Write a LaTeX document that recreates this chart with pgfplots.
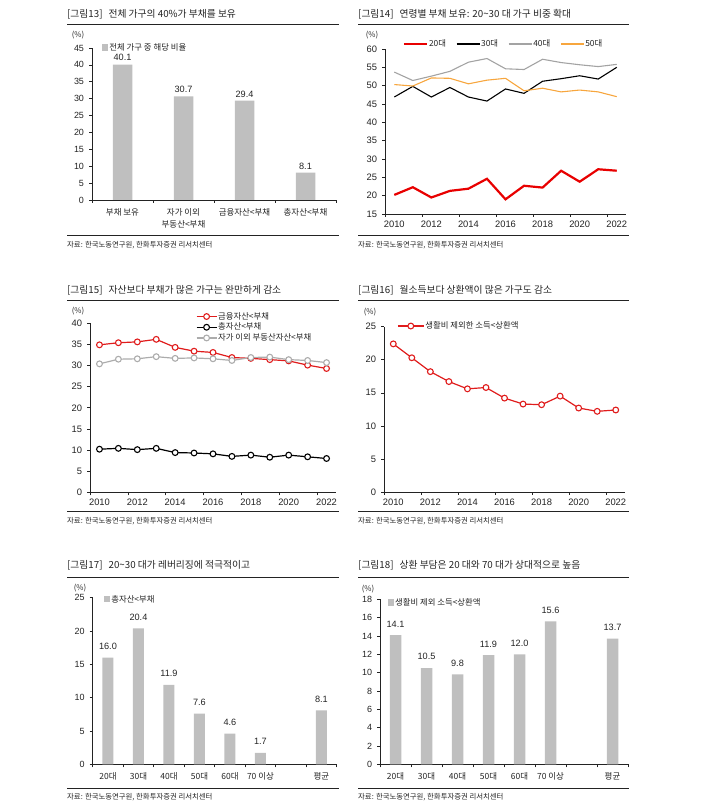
\documentclass[border=0pt]{standalone}
\usepackage{pgfplots}
\pgfplotsset{compat=1.18}
\usepackage{fontspec}
\setmainfont{Liberation Sans}
\newfontfamily\kr{Noto Sans CJK KR}

\definecolor{barg}{RGB}{191,191,191}
\definecolor{lred}{RGB}{232,0,0}
\definecolor{lgray}{RGB}{163,163,163}
\definecolor{lorange}{RGB}{247,166,62}
\definecolor{mred}{RGB}{224,28,28}
\definecolor{mgray}{RGB}{172,172,172}
\definecolor{ink}{RGB}{35,35,35}

\pgfplotsset{
  /pgf/number format/assume math mode=true,
  /pgf/number format/1000 sep={},
  panel/.style={
    scale only axis, anchor=south west,
    axis x line*=bottom, axis y line*=left,
    axis line style={-, draw=ink, line width=0.7bp},
    tick align=outside, major tick length=3bp,
    tick style={draw=ink, line width=0.6bp},
    tick label style={font=\fontsize{9}{10}\selectfont, text=ink},
    yticklabel style={xshift=-1.5bp},
    legend style={draw=none, fill=none, inner sep=0pt,
      nodes={inner sep=1bp}, font=\kr\fontsize{8.4}{10}\selectfont, text=ink},
    legend cell align=left,
  },
  barpanel/.style={
    panel, ybar, bar width=#1,
    legend image code/.code={\fill[barg] (0bp,-3bp) rectangle (6.5bp,3.5bp);},
    nodes near coords,
    nodes near coords style={font=\fontsize{9.2}{10}\selectfont, text=ink,
      /pgf/number format/fixed, /pgf/number format/fixed zerofill,
      /pgf/number format/precision=1},
    xticklabels={},
    extra x tick style={major tick length=0pt,
      tick label style={font=\kr\fontsize{8.5}{12}\selectfont, align=center, yshift=-5bp}},
  },
  linepanel/.style={
    panel, xmin=2009.5, xmax=2022.5,
    tick label style={font=\fontsize{9.4}{10}\selectfont},
    xtick={2009.5,2011.5,2013.5,2015.5,2017.5,2019.5,2021.5}, xticklabels={},
    extra x ticks={2010,2012,2014,2016,2018,2020,2022},
    extra x tick labels={2010,2012,2014,2016,2018,2020,2022},
    extra x tick style={major tick length=0pt, tick label style={yshift=-3.5bp}},
  },
}
\tikzset{
  ttl/.style={anchor=base west, inner sep=0pt, font=\kr\fontsize{9.8}{11}\selectfont, text=ink},
  src/.style={anchor=base west, inner sep=0pt, font=\kr\fontsize{7.4}{8}\selectfont, text=ink},
  pct/.style={inner sep=0pt, font=\kr\fontsize{7.8}{9}\selectfont, text=ink},
  rul/.style={draw=ink, line width=0.8bp},
}

\begin{document}
\begin{tikzpicture}[x=1bp,y=1bp]
\useasboundingbox (0,0) rectangle (713,812);

% ---------- titles, rules, sources ----------
\node[ttl] at (67,794.3) {[그림13]\hspace{6bp}전체 가구의 40\%가 부채를 보유};
\node[ttl] at (358,794.3) {[그림14]\hspace{6bp}연령별 부채 보유: 20\textasciitilde30 대 가구 비중 확대};
\node[ttl] at (67,518.3) {[그림15]\hspace{6bp}자산보다 부채가 많은 가구는 완만하게 감소};
\node[ttl] at (358,518.3) {[그림16]\hspace{6bp}월소득보다 상환액이 많은 가구도 감소};
\node[ttl] at (67,243.3) {[그림17]\hspace{6bp}20\textasciitilde30 대가 레버리징에 적극적이고};
\node[ttl] at (358,243.3) {[그림18]\hspace{6bp}상환 부담은 20 대와 70 대가 상대적으로 높음};

\draw[rul] (67,788) -- (339,788);  \draw[rul] (358,788) -- (629,788);
\draw[rul] (67,512) -- (339,512);  \draw[rul] (358,512) -- (629,512);
\draw[rul] (67,235) -- (339,235);  \draw[rul] (358,235) -- (629,235);
\draw[rul] (67,577) -- (339,577);  \draw[rul] (358,577) -- (629,577);
\draw[rul] (67,301) -- (339,301);  \draw[rul] (358,301) -- (629,301);
\draw[rul] (67,24) -- (339,24);    \draw[rul] (358,24) -- (629,24);

\foreach \xx/\yy in {67/564.2, 358/564.2, 67/288.2, 358/288.2, 67/12.2, 358/12.2}
  \node[src] at (\xx,\yy) {자료: 한국노동연구원, 한화투자증권 리서치센터};

\node[pct] at (78,777) {(\%)};
\node[pct] at (372,777) {(\%)};
\node[pct] at (78,501) {(\%)};
\node[pct] at (370,500) {(\%)};
\node[pct] at (80,224) {(\%)};
\node[pct] at (368,223) {(\%)};

% ---------- 그림13 ----------
\begin{axis}[barpanel=19.5bp, at={(92bp,612bp)}, width=244bp, height=152bp,
  xmin=-0.5, xmax=3.5, ymin=0, ymax=45, ytick={0,5,...,45},
  xtick={-0.5,0.5,1.5,2.5,3.5},
  extra x ticks={0,1,2,3},
  extra x tick labels={부채 보유,{자가 이외\\부동산<부채},금융자산<부채,총자산<부채},
  legend style={at={(0.04,1.0)}, anchor=west},
]
\addplot[fill=barg, draw=none] coordinates {(0,40.1) (1,30.7) (2,29.4) (3,8.1)};
\addlegendentry{전체 가구 중 해당 비율}
\end{axis}

% ---------- 그림14 ----------
\begin{axis}[linepanel, at={(385bp,598bp)}, width=241bp, height=165bp,
  ymin=15, ymax=60, ytick={15,20,...,60},
  legend columns=4,
  legend style={at={(0.49,1.03)}, anchor=center,
    /tikz/every even column/.append style={column sep=9bp}},
  legend image code/.code={\draw[#1] (0bp,0bp) -- (23bp,0bp);},
]
\addplot[lred, line width=2.2bp] coordinates {
(2010,20.2) (2011,22.3) (2012,19.5) (2013,21.3) (2014,21.9) (2015,24.6) (2016,19.0)
(2017,22.7) (2018,22.2) (2019,26.8) (2020,23.8) (2021,27.2) (2022,26.8)};
\addlegendentry{20대}
\addplot[black, line width=1.1bp] coordinates {
(2010,46.9) (2011,49.8) (2012,46.9) (2013,49.5) (2014,46.9) (2015,45.8) (2016,49.1)
(2017,47.9) (2018,51.2) (2019,51.9) (2020,52.7) (2021,51.8) (2022,55.0)};
\addlegendentry{30대}
\addplot[lgray, line width=1.1bp] coordinates {
(2010,53.7) (2011,51.4) (2012,52.6) (2013,53.9) (2014,56.4) (2015,57.4) (2016,54.6)
(2017,54.4) (2018,57.2) (2019,56.3) (2020,55.7) (2021,55.2) (2022,55.8)};
\addlegendentry{40대}
\addplot[lorange, line width=1.1bp] coordinates {
(2010,50.3) (2011,49.9) (2012,52.1) (2013,52.0) (2014,50.5) (2015,51.5) (2016,52.0)
(2017,48.6) (2018,49.3) (2019,48.3) (2020,48.8) (2021,48.3) (2022,47.0)};
\addlegendentry{50대}
\end{axis}

% ---------- 그림15 ----------
\begin{axis}[linepanel, at={(90bp,319.7bp)}, width=246bp, height=169bp,
  ymin=0, ymax=40, ytick={0,5,...,40},
  legend style={at={(0.43,1.072)}, anchor=north west, row sep=0.3bp},
  legend image code/.code={\draw[mark repeat=2, mark phase=2, #1]
    plot coordinates {(0bp,0bp) (10bp,0bp) (20bp,0bp)};},
]
\addplot[mred, line width=1.2bp, mark=*, mark size=2.9bp,
  mark options={fill=white, line width=1.1bp}] coordinates {
(2010,34.9) (2011,35.4) (2012,35.6) (2013,36.2) (2014,34.3) (2015,33.4) (2016,33.1)
(2017,31.9) (2018,31.7) (2019,31.4) (2020,31.1) (2021,30.1) (2022,29.3)};
\addlegendentry{금융자산<부채}
\addplot[black, line width=1.2bp, mark=*, mark size=2.9bp,
  mark options={fill=white, line width=1.1bp}] coordinates {
(2010,10.2) (2011,10.4) (2012,10.1) (2013,10.4) (2014,9.4) (2015,9.3) (2016,9.1)
(2017,8.5) (2018,8.8) (2019,8.3) (2020,8.8) (2021,8.4) (2022,8.0)};
\addlegendentry{총자산<부채}
\addplot[mgray, line width=1.2bp, mark=*, mark size=2.9bp,
  mark options={fill=white, line width=1.1bp}] coordinates {
(2010,30.4) (2011,31.5) (2012,31.6) (2013,32.1) (2014,31.7) (2015,31.8) (2016,31.6)
(2017,31.2) (2018,31.9) (2019,32.0) (2020,31.4) (2021,31.2) (2022,30.7)};
\addlegendentry{자가 이외 부동산자산<부채}
\end{axis}

% ---------- 그림16 ----------
\begin{axis}[linepanel, at={(384bp,320bp)}, width=241bp, height=165.3bp,
  ymin=0, ymax=25, ytick={0,5,...,25},
  legend style={at={(0.054,1.004)}, anchor=west},
  legend image code/.code={\draw[mark repeat=2, mark phase=2, #1]
    plot coordinates {(0bp,0bp) (13bp,0bp) (26bp,0bp)};},
]
\addplot[mred, line width=1.2bp, mark=*, mark size=2.9bp,
  mark options={fill=white, line width=1.1bp}] coordinates {
(2010,22.4) (2011,20.3) (2012,18.2) (2013,16.7) (2014,15.6) (2015,15.8) (2016,14.2)
(2017,13.3) (2018,13.2) (2019,14.5) (2020,12.7) (2021,12.2) (2022,12.4)};
\addlegendentry{생활비 제외한 소득<상환액}
\end{axis}

% ---------- 그림17 ----------
\begin{axis}[barpanel=11bp, at={(92.7bp,47.7bp)}, width=244bp, height=166.6bp,
  xmin=-0.5, xmax=7.5, ymin=0, ymax=25, ytick={0,5,...,25},
  xtick={-0.5,0.5,1.5,2.5,3.5,4.5,5.5,6.5,7.5},
  extra x ticks={0,1,2,3,4,5,7},
  extra x tick labels={20대,30대,40대,50대,60대,70 이상,평균},
  nodes near coords style={yshift=4.5bp},
  legend style={at={(0.045,0.99)}, anchor=west},
]
\addplot[fill=barg, draw=none] coordinates {(0,16.0) (1,20.4) (2,11.9) (3,7.6) (4,4.6) (5,1.7) (7,8.1)};
\addlegendentry{총자산<부채}
\end{axis}

% ---------- 그림18 ----------
\begin{axis}[barpanel=11.5bp, at={(380bp,47.7bp)}, width=248bp, height=165bp,
  xmin=-0.5, xmax=7.5, ymin=0, ymax=18, ytick={0,2,...,18},
  xtick={-0.5,0.5,1.5,2.5,3.5,4.5,5.5,6.5,7.5},
  extra x ticks={0,1,2,3,4,5,7},
  extra x tick labels={20대,30대,40대,50대,60대,70 이상,평균},
  nodes near coords style={yshift=4.5bp},
  legend style={at={(0.03,0.98)}, anchor=west},
]
\addplot[fill=barg, draw=none] coordinates {(0,14.1) (1,10.5) (2,9.8) (3,11.9) (4,12.0) (5,15.6) (7,13.7)};
\addlegendentry{생활비 제외 소득<상환액}
\end{axis}
\end{tikzpicture}
\end{document}
